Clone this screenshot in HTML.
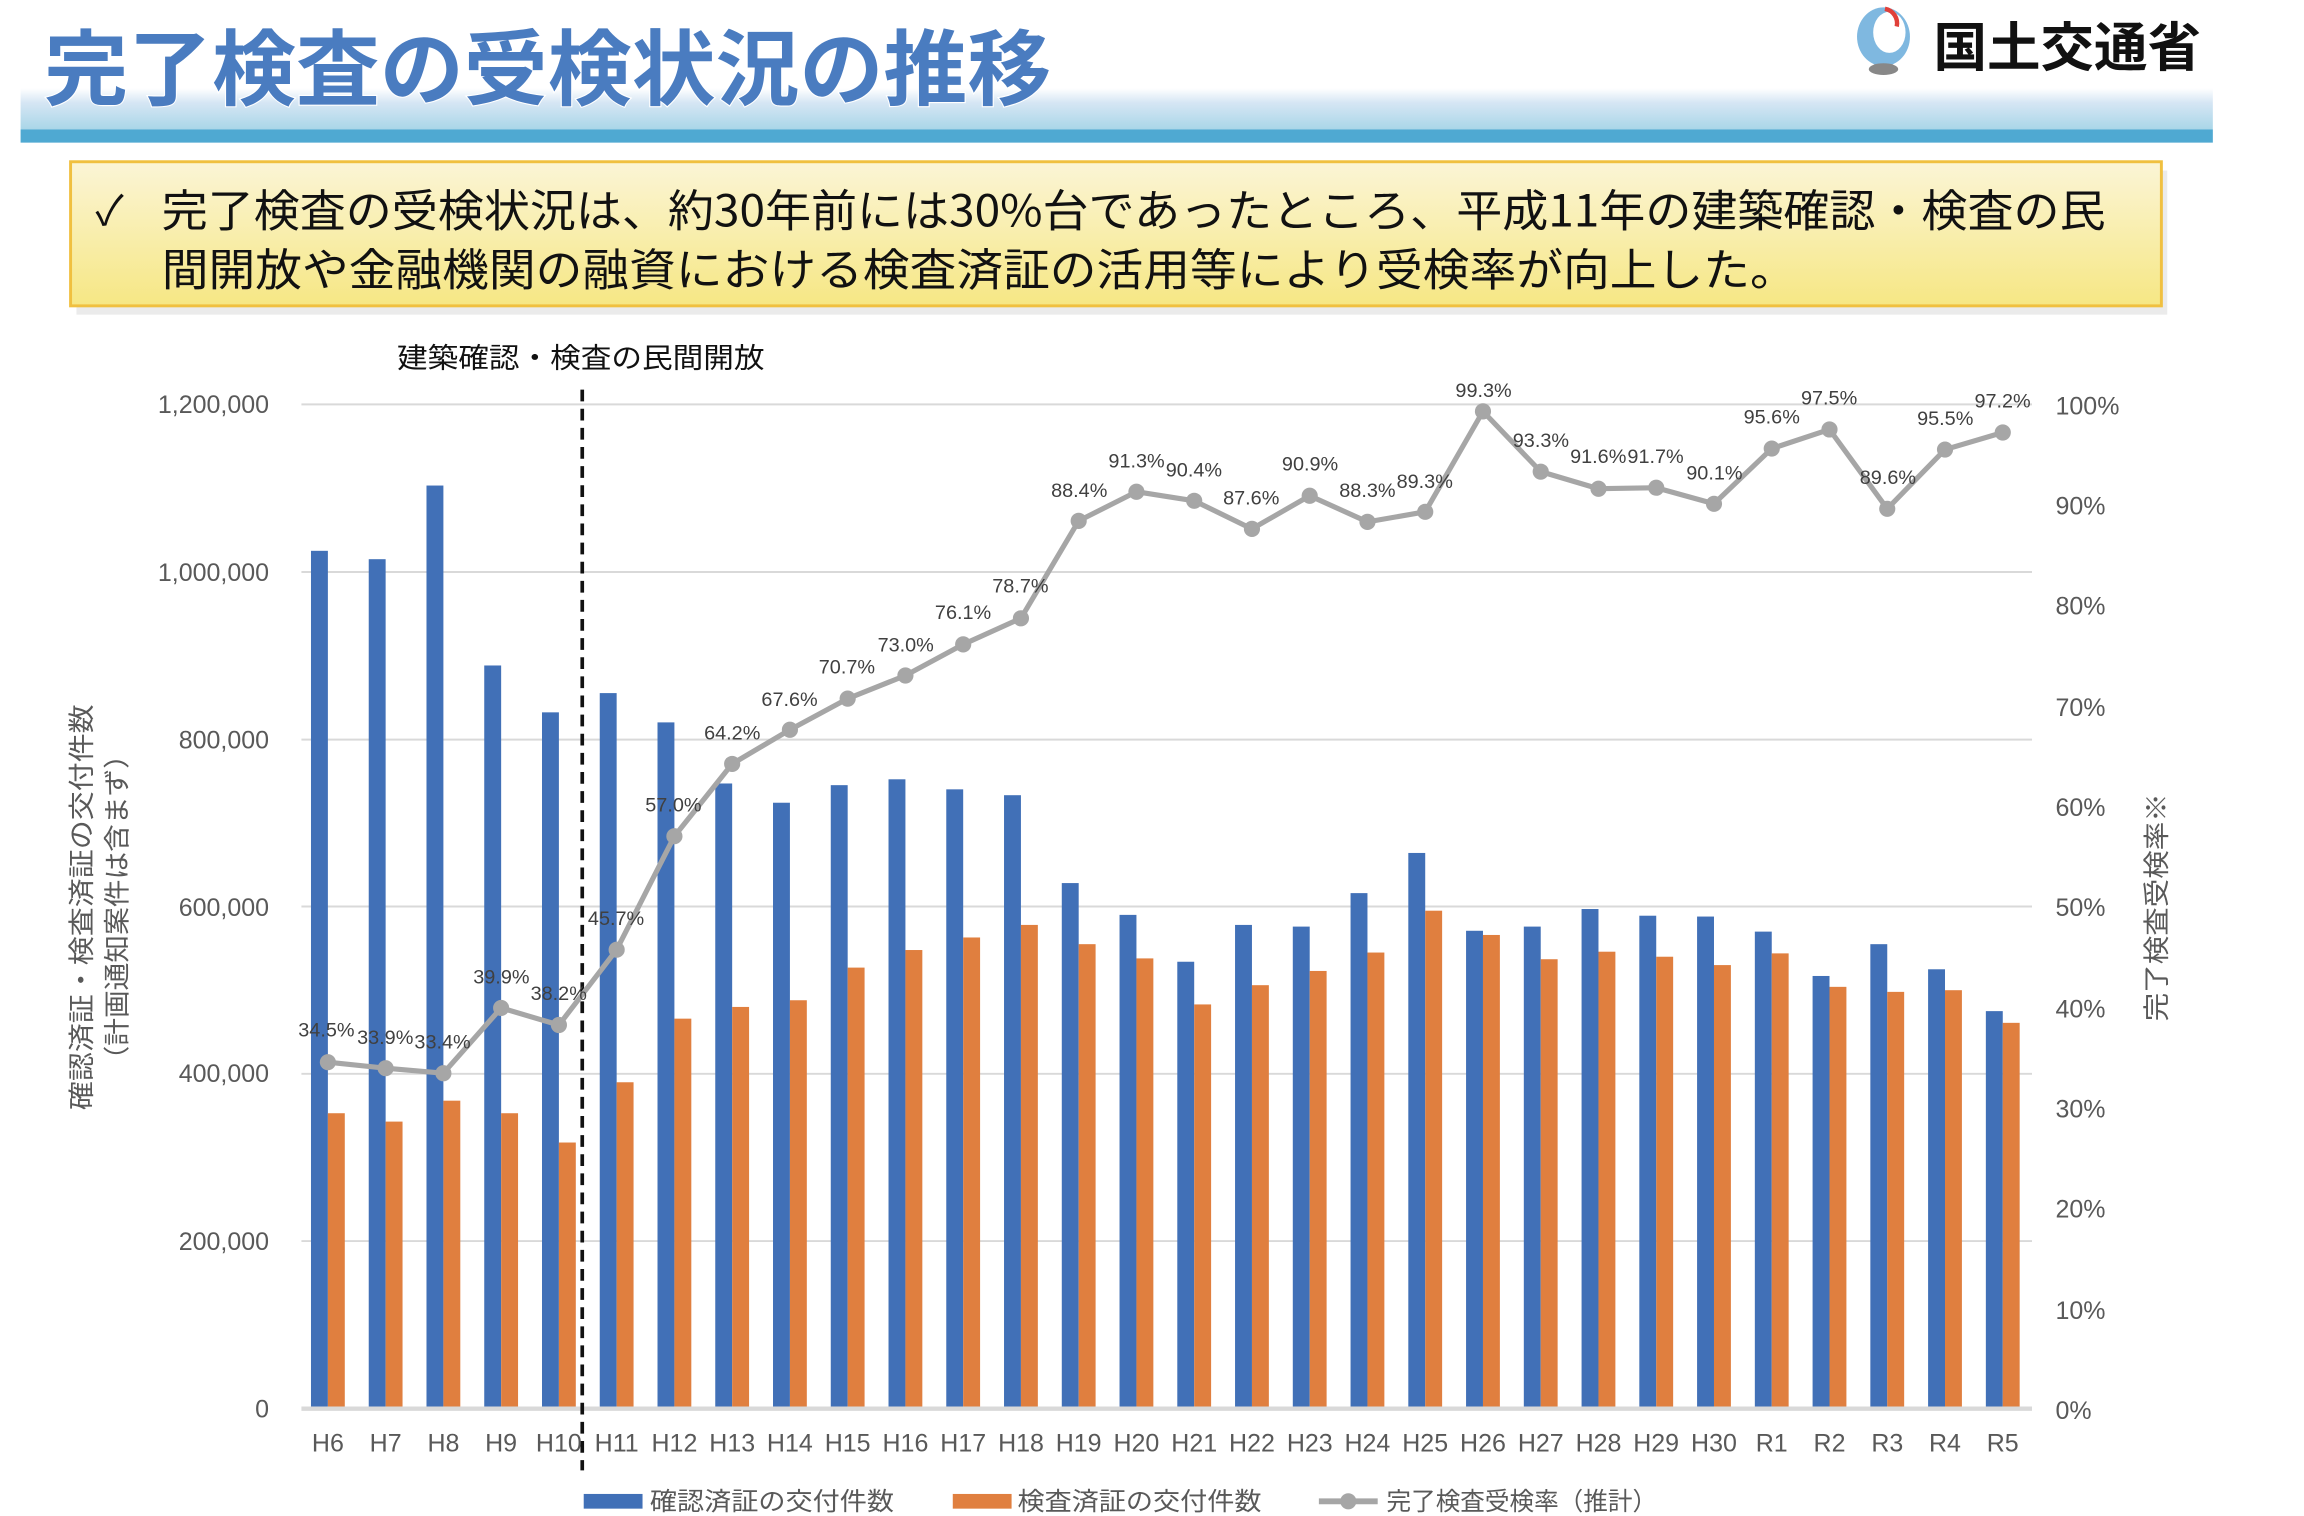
<!DOCTYPE html>
<html><head><meta charset="utf-8">
<style>
html,body{margin:0;padding:0;background:#fff;width:2304px;height:1516px;overflow:hidden}
svg{display:block}
text{font-family:"Liberation Sans","Noto Sans CJK JP",sans-serif}
.jp{font-family:"Noto Sans CJK JP","Liberation Sans",sans-serif}
</style></head><body>
<svg id="s" width="2304" height="1516" viewBox="0 0 1567 1031" preserveAspectRatio="none" xmlns="http://www.w3.org/2000/svg">
<defs>
<linearGradient id="band" x1="0" y1="0" x2="0" y2="1">
<stop offset="0" stop-color="#ffffff"/><stop offset="0.35" stop-color="#d6e6f4"/><stop offset="1" stop-color="#a9d6e8"/></linearGradient>
<linearGradient id="yel" x1="0" y1="0" x2="0" y2="1">
<stop offset="0" stop-color="#fbf5d6"/><stop offset="1" stop-color="#f6e784"/></linearGradient>
</defs>
<rect x="14" y="60" width="1491" height="28" fill="url(#band)"/>
<rect x="14" y="88" width="1491" height="9" fill="#4fa9d2"/>
<text class="jp" x="30" y="67" font-size="56" font-weight="bold" fill="#4a7cc0" stroke="#fff" stroke-width="1.5" paint-order="stroke" textLength="685" lengthAdjust="spacingAndGlyphs">完了検査の受検状況の推移</text>
<ellipse cx="1281" cy="25" rx="18" ry="20" fill="#7fb8e0"/>
<ellipse cx="1285" cy="22" rx="11" ry="14" fill="#fff"/>
<path d="M1282 6 a10 10 0 0 1 8 12" stroke="#e0403a" stroke-width="3" fill="none"/>
<ellipse cx="1281" cy="47" rx="10" ry="4" fill="#888"/>
<text class="jp" x="1315" y="45" font-size="36" font-weight="bold" fill="#111" textLength="182" lengthAdjust="spacingAndGlyphs">国土交通省</text>
<rect x="52" y="116" width="1422" height="98" fill="#000" opacity="0.08"/>
<rect x="48" y="110" width="1422" height="98" fill="url(#yel)" stroke="#f0c040" stroke-width="2"/>
<text class="jp" x="65" y="153" font-size="28" fill="#111">✓</text>
<text class="jp" x="110" y="154" font-size="30" fill="#111" textLength="1322" lengthAdjust="spacingAndGlyphs">完了検査の受検状況は、約30年前には30%台であったところ、平成11年の建築確認・検査の民</text>
<text class="jp" x="110" y="194" font-size="30" fill="#111" textLength="1112" lengthAdjust="spacingAndGlyphs">間開放や金融機関の融資における検査済証の活用等により受検率が向上した。</text>
<g stroke="#d9d9d9" stroke-width="1.3">
<line x1="205" x2="1382" y1="275" y2="275"/><line x1="205" x2="1382" y1="389" y2="389"/>
<line x1="205" x2="1382" y1="503" y2="503"/><line x1="205" x2="1382" y1="616.5" y2="616.5"/>
<line x1="205" x2="1382" y1="730.3" y2="730.3"/><line x1="205" x2="1382" y1="844" y2="844"/>
</g>
<g id="bars"></g>
<line x1="205" x2="1382" y1="958" y2="958" stroke="#d9d9d9" stroke-width="3"/>
<line x1="396" x2="396" y1="265" y2="1000" stroke="#111" stroke-width="2.5" stroke-dasharray="8,5"/>
<text class="jp" x="270" y="250" font-size="19" fill="#111" textLength="250" lengthAdjust="spacingAndGlyphs">建築確認・検査の民間開放</text>
<g id="line"></g>
<g font-size="17" fill="#595959" text-anchor="end">
<text x="183" y="281">1,200,000</text><text x="183" y="395">1,000,000</text>
<text x="183" y="509">800,000</text><text x="183" y="623">600,000</text>
<text x="183" y="736">400,000</text><text x="183" y="850">200,000</text><text x="183" y="964">0</text>
</g>
<g font-size="17" fill="#595959">
<text x="1398" y="282">100%</text><text x="1398" y="350">90%</text><text x="1398" y="418">80%</text>
<text x="1398" y="487">70%</text><text x="1398" y="555">60%</text><text x="1398" y="623">50%</text>
<text x="1398" y="692">40%</text><text x="1398" y="760">30%</text><text x="1398" y="828">20%</text>
<text x="1398" y="897">10%</text><text x="1398" y="965">0%</text>
</g>
<text class="jp" transform="translate(62,617) rotate(-90)" font-size="18" fill="#595959" text-anchor="middle" textLength="276" lengthAdjust="spacingAndGlyphs">確認済証・検査済証の交付件数</text>
<text class="jp" transform="translate(86,617) rotate(-90)" font-size="18" fill="#595959" text-anchor="middle" textLength="226" lengthAdjust="spacingAndGlyphs">（計画通知案件は含まず）</text>
<text class="jp" transform="translate(1473,617) rotate(-90)" font-size="18" fill="#595959" text-anchor="middle" textLength="155" lengthAdjust="spacingAndGlyphs">完了検査受検率※</text>
<g font-size="17" fill="#595959" text-anchor="middle">
<text x="223" y="987">H6</text><text x="262.3" y="987">H7</text><text x="301.6" y="987">H8</text><text x="340.8" y="987">H9</text><text x="380.1" y="987">H10</text><text x="419.4" y="987">H11</text><text x="458.7" y="987">H12</text><text x="498" y="987">H13</text><text x="537.2" y="987">H14</text><text x="576.5" y="987">H15</text><text x="615.8" y="987">H16</text><text x="655.1" y="987">H17</text><text x="694.4" y="987">H18</text><text x="733.6" y="987">H19</text><text x="772.9" y="987">H20</text><text x="812.2" y="987">H21</text><text x="851.5" y="987">H22</text><text x="890.8" y="987">H23</text><text x="930" y="987">H24</text><text x="969.3" y="987">H25</text><text x="1008.6" y="987">H26</text><text x="1047.9" y="987">H27</text><text x="1087.2" y="987">H28</text><text x="1126.4" y="987">H29</text><text x="1165.7" y="987">H30</text><text x="1205" y="987">R1</text><text x="1244.3" y="987">R2</text><text x="1283.6" y="987">R3</text><text x="1322.8" y="987">R4</text><text x="1362.1" y="987">R5</text>
</g>
<g font-size="13.5" fill="#404040" text-anchor="middle">
<text x="222" y="705">34.5%</text><text x="262" y="710">33.9%</text><text x="301" y="713">33.4%</text><text x="341" y="669">39.9%</text><text x="380" y="680">38.2%</text><text x="419" y="629">45.7%</text><text x="458" y="552">57.0%</text><text x="498" y="503">64.2%</text><text x="537" y="480">67.6%</text><text x="576" y="458">70.7%</text><text x="616" y="443">73.0%</text><text x="655" y="421">76.1%</text><text x="694" y="403">78.7%</text><text x="734" y="338">88.4%</text><text x="773" y="318">91.3%</text><text x="812" y="324">90.4%</text><text x="851" y="343">87.6%</text><text x="891" y="320">90.9%</text><text x="930" y="338">88.3%</text><text x="969" y="332">89.3%</text><text x="1009" y="270">99.3%</text><text x="1048" y="304">93.3%</text><text x="1087" y="315">91.6%</text><text x="1126" y="315">91.7%</text><text x="1166" y="326">90.1%</text><text x="1205" y="288">95.6%</text><text x="1244" y="275">97.5%</text><text x="1284" y="329">89.6%</text><text x="1323" y="289">95.5%</text><text x="1362" y="277">97.2%</text>
</g>
<rect x="397" y="1016" width="40" height="10" fill="#4170b7"/>
<text class="jp" x="442" y="1027" font-size="17" fill="#595959" textLength="166" lengthAdjust="spacingAndGlyphs">確認済証の交付件数</text>
<rect x="648" y="1016" width="40" height="10" fill="#e07f3f"/>
<text class="jp" x="692" y="1027" font-size="17" fill="#595959" textLength="166" lengthAdjust="spacingAndGlyphs">検査済証の交付件数</text>
<line x1="897" x2="937" y1="1021" y2="1021" stroke="#a6a6a6" stroke-width="4"/>
<circle cx="917" cy="1021" r="5.5" fill="#a6a6a6"/>
<text class="jp" x="943" y="1027" font-size="17" fill="#595959" textLength="184" lengthAdjust="spacingAndGlyphs">完了検査受検率（推計）</text>
</svg>
<script>
var B=[1025,1015,1103,888,832,855,820,747,724,745,752,740,733,628,590,534,578,576,616,664,571,576,597,589,588,570,517,555,525,475];
var O=[353,343,368,353,318,390,466,480,488,527,548,563,578,555,538,483,506,523,545,595,566,537,546,540,530,544,504,498,500,461];
var R=[34.5,33.9,33.4,39.9,38.2,45.7,57.0,64.2,67.6,70.7,73.0,76.1,78.7,88.4,91.3,90.4,87.6,90.9,88.3,89.3,99.3,93.3,91.6,91.7,90.1,95.6,97.5,89.6,95.5,97.2];
var ns="http://www.w3.org/2000/svg",g=document.getElementById('bars'),l=document.getElementById('line');
function el(t,a,p){var e=document.createElementNS(ns,t);for(var k in a)e.setAttribute(k,a[k]);p.appendChild(e);}
var pts=[];
for(var i=0;i<30;i++){var c=223+39.28*i;
var yb=958-B[i]*0.56917,yo=958-O[i]*0.56917;
el('rect',{x:c-11.5,y:yb,width:11.5,height:958-yb,fill:'#4170b7'},g);
el('rect',{x:c,y:yo,width:11.5,height:958-yo,fill:'#e07f3f'},g);
pts.push(c+','+(958-R[i]*6.83));}
el('polyline',{points:pts.join(' '),fill:'none',stroke:'#a6a6a6','stroke-width':3.5,'stroke-linejoin':'round'},l);
pts.forEach(function(p){var a=p.split(',');el('circle',{cx:a[0],cy:a[1],r:5.5,fill:'#a6a6a6'},l);});
</script>
</body></html>
